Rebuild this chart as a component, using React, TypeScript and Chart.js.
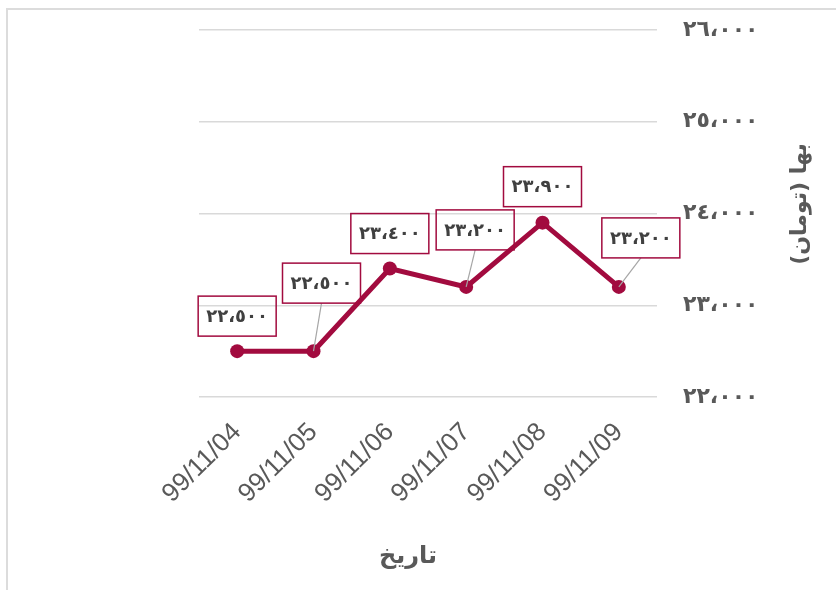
import React, { useEffect, useRef } from 'react';
import { Chart, registerables } from 'chart.js';

Chart.register(...registerables);

const categories = ['99/11/04', '99/11/05', '99/11/06', '99/11/07', '99/11/08', '99/11/09'];
const prices = [22500, 22500, 23400, 23200, 23900, 23200];
const yMin = 22000;
const yMax = 26000;
const yStep = 1000;
const xTitle = 'تاریخ';
const yTitle = 'بها (تومان)';

const labelOffsets = [[0, -35], [8, -68], [0, -35], [9, -57], [0, -36], [22, -49]];
const leaderLines = [false, true, false, true, false, true];

const CRIMSON = '#A20B3F';
const GRAY = '#595959';

const arabicDigits = '٠١٢٣٤٥٦٧٨٩';
function toArabic(v: number): string {
  const s = Math.round(v).toString().replace(/\B(?=(\d{3})+(?!\d))/g, ',');
  return s
    .split('')
    .map((c) => (c >= '0' && c <= '9' ? arabicDigits[+c] : c === ',' ? '،' : c))
    .join('');
}

const labelPlugin = {
  id: 'labelPlugin',
  afterDatasetsDraw(chart: any) {
    const ctx = chart.ctx;
    const meta = chart.getDatasetMeta(0);
    const w = 78;
    const h = 40;
    ctx.save();
    meta.data.forEach((pt: any, i: number) => {
      const [dx, dy] = labelOffsets[i];
      const cx = pt.x + dx;
      const cy = pt.y + dy;
      if (leaderLines[i]) {
        ctx.strokeStyle = '#a6a6a6';
        ctx.lineWidth = 1.2;
        ctx.beginPath();
        ctx.moveTo(cx, cy + h / 2);
        ctx.lineTo(pt.x, pt.y);
        ctx.stroke();
      }
      ctx.strokeStyle = CRIMSON;
      ctx.lineWidth = 1.5;
      ctx.strokeRect(cx - w / 2, cy - h / 2, w, h);
      ctx.fillStyle = '#404040';
      ctx.font = 'bold 18px "DejaVu Sans"';
      ctx.textAlign = 'center';
      ctx.textBaseline = 'middle';
      ctx.fillText(toArabic(prices[i]), cx, cy + 1);
    });
    ctx.restore();
  },
  afterDraw(chart: any) {
    const ctx = chart.ctx;
    ctx.save();
    ctx.direction = 'rtl';
    ctx.fillStyle = GRAY;
    ctx.font = 'bold 24px "DejaVu Sans"';
    ctx.textAlign = 'center';
    ctx.textBaseline = 'middle';
    ctx.fillText(xTitle, 408, 557);
    ctx.font = 'bold 22px "DejaVu Sans"';
    ctx.translate(800, 204);
    ctx.rotate(-Math.PI / 2);
    ctx.fillText(yTitle, 0, 0);
    ctx.restore();
  },
};

export default function App() {
  const ref = useRef<HTMLCanvasElement>(null);
  useEffect(() => {
    if (!ref.current) return;
    const chart = new Chart(ref.current, {
      type: 'line',
      data: {
        labels: categories,
        datasets: [
          {
            data: prices,
            borderColor: CRIMSON,
            backgroundColor: CRIMSON,
            borderWidth: 5,
            pointRadius: 7,
            pointBackgroundColor: CRIMSON,
            pointBorderWidth: 0,
            tension: 0,
          },
        ],
      },
      options: {
        animation: false,
        responsive: false,
        devicePixelRatio: 1,
        layout: { padding: { left: 199, top: 30, right: 0, bottom: 0 } },
        plugins: { legend: { display: false }, tooltip: { enabled: false } },
        scales: {
          x: {
            offset: true,
            grid: { display: false },
            border: { display: false },
            ticks: {
              maxRotation: 45,
              minRotation: 45,
              padding: 12,
              color: GRAY,
              font: { family: '"Liberation Sans"', size: 26 },
            },
            afterFit(scale: any) {
              scale.height = 193;
              scale.paddingLeft = 0;
              scale.paddingRight = 0;
            },
          },
          y: {
            position: 'right',
            min: yMin,
            max: yMax,
            ticks: {
              stepSize: yStep,
              padding: 26,
              color: GRAY,
              font: { family: '"DejaVu Sans"', size: 22, weight: 'bold' },
              callback: (v: any) => toArabic(Number(v)),
            },
            grid: { color: '#d9d9d9', lineWidth: 1.5, drawTicks: false },
            border: { display: false },
            afterFit(scale: any) {
              scale.width = 179;
              scale.paddingTop = 0;
              scale.paddingBottom = 0;
            },
          },
        },
      },
      plugins: [labelPlugin],
    } as any);
    return () => chart.destroy();
  }, []);

  return (
    <div style={{ position: 'fixed', left: 0, top: 0, width: 836, height: 590, overflow: 'hidden', background: '#fff' }}>
      <div
        style={{
          position: 'absolute',
          left: 6,
          top: 8,
          width: 900,
          height: 700,
          borderLeft: '2px solid #dcdcdc',
          borderTop: '2px solid #dcdcdc',
        }}
      />
      <canvas ref={ref} width={836} height={590} style={{ position: 'absolute', left: 0, top: 0 }} />
    </div>
  );
}
